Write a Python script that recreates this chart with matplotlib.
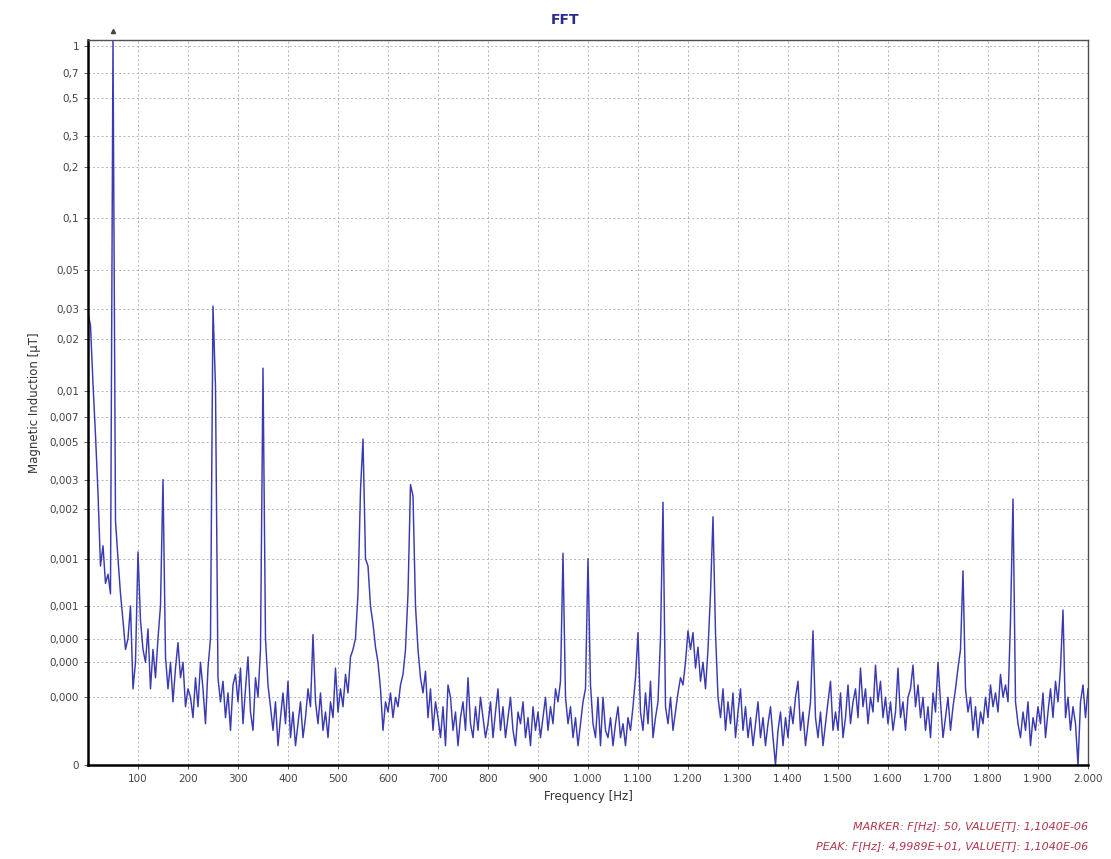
import numpy as np
import matplotlib
matplotlib.use("Agg")
import matplotlib.pyplot as plt
from matplotlib.ticker import FixedLocator, FuncFormatter

# spectrum, 5 Hz step, values in uT (one row = 100 Hz)
freq_step = 5
spectrum = [
    0.028, 0.024, 0.011, 0.0055, 0.0025, 0.0009, 0.0012, 0.0007, 0.0008, 0.0006,
    1.104, 0.0017, 0.001, 0.0006, 0.0004, 0.00025, 0.0003, 0.0005, 0.00012, 0.0002,
    0.0011, 0.0004, 0.00025, 0.0002, 0.00035, 0.00012, 0.00025, 0.00015, 0.0003, 0.0005,
    0.003, 0.00022, 0.00012, 0.0002, 0.00009, 0.00018, 0.00028, 0.00015, 0.0002, 0.00008,
    0.00012, 0.0001, 0.00006, 0.00015, 0.00008, 0.0002, 0.00012, 0.00005, 0.00018, 0.0003,
    0.031, 0.0105, 0.00015, 0.00009, 0.00014, 0.00006, 0.00011, 0.00004, 0.00013, 0.00016,
    0.00009, 0.00018, 0.00005, 0.00012, 0.00022, 0.00007, 0.00004, 0.00015, 0.0001, 0.00025,
    0.0135, 0.0003, 0.00013, 0.00008, 0.00004, 0.00009, 0.00002, 0.00006, 0.00011, 0.00005,
    0.00014, 0.00003, 0.00007, 0.00002, 0.00005, 0.00009, 0.00003, 0.00006, 0.00012, 0.00008,
    0.00032, 0.00009, 0.00005, 0.00011, 0.00004, 0.00007, 0.00003, 0.00009, 0.00006, 0.00018,
    0.00007, 0.00012, 0.00008, 0.00016, 0.00011, 0.00022, 0.00025, 0.0003, 0.0006, 0.0026,
    0.0052, 0.001, 0.0009, 0.0005, 0.00038, 0.00026, 0.0002, 0.00012, 0.00004, 0.00009,
    0.00007, 0.00011, 0.00006, 0.0001, 0.00008, 0.00013, 0.00016, 0.00025, 0.0006, 0.0028,
    0.0024, 0.0005, 0.00025, 0.00015, 0.00011, 0.00017, 0.00006, 0.00012, 0.00004, 0.00009,
    0.00006, 0.00003, 0.00008, 0.00002, 0.00013, 0.0001, 0.00004, 0.00007, 0.00002, 0.00006,
    0.00009, 0.00004, 0.00015, 0.00005, 0.00003, 0.00008, 0.00004, 0.0001, 0.00006, 0.00003,
    0.00005, 0.00009, 0.00003, 0.00007, 0.00012, 0.00004, 0.00008, 0.00003, 0.00006, 0.0001,
    0.00004, 0.00002, 0.00007, 0.00005, 0.00009, 0.00003, 0.00006, 0.00002, 0.00008, 0.00004,
    0.00007, 0.00003, 0.00006, 0.0001, 0.00004, 0.00008, 0.00005, 0.00012, 0.00009, 0.00014,
    0.00108, 0.0001, 0.00005, 0.00008, 0.00003, 0.00006, 0.00002, 0.00005, 0.00009, 0.00012,
    0.001, 0.00013, 0.00005, 0.00003, 0.0001, 0.00002, 0.0001, 0.00004, 0.00003, 0.00006,
    0.00002, 0.00005, 0.00008, 0.00003, 0.00005, 0.00002, 0.00006, 0.00004, 0.00008, 0.00015,
    0.00033, 0.00007, 0.00004, 0.00011, 0.00005, 0.00014, 0.00003, 0.00006, 0.00009, 0.0003,
    0.0022, 0.00008, 0.00005, 0.0001, 0.00004, 0.00007, 0.00011, 0.00015, 0.00013, 0.0002,
    0.00034, 0.00025, 0.00033, 0.00018, 0.00026, 0.00014, 0.0002, 0.00012, 0.00025, 0.0006,
    0.0018, 0.00033, 0.0001, 0.00006, 0.00012, 0.00004, 0.00009, 0.00005, 0.00011, 0.00003,
    0.00007, 0.00012, 0.00004, 0.00008, 0.00003, 0.00006, 0.00002, 0.00005, 0.00009, 0.00003,
    0.00006, 0.00002, 0.00005, 0.00008, 0.00003, 0.0, 0.00004, 0.00007, 0.00002, 0.00006,
    0.00003, 0.00008, 0.00005, 0.0001, 0.00014, 0.00004, 0.00007, 0.00002, 0.00005, 0.00009,
    0.00034, 0.00006, 0.00003, 0.00007, 0.00002, 0.00005, 0.00009, 0.00014, 0.00004, 0.00007,
    0.00004, 0.00011, 0.00003, 0.00006, 0.00013, 0.00005, 0.00009, 0.00012, 0.00006, 0.00018,
    0.00008, 0.00012, 0.00005, 0.0001, 0.00007, 0.00019, 0.00009, 0.00014, 0.00006, 0.0001,
    0.00005, 0.00009, 0.00004, 0.00007, 0.00018, 0.00006, 0.00009, 0.00004, 0.0001, 0.00012,
    0.00019, 0.00008, 0.00013, 0.00006, 0.0001, 0.00004, 0.00008, 0.00003, 0.00011, 0.00007,
    0.0002, 0.00009, 0.00003, 0.00006, 0.0001, 0.00004, 0.00008, 0.00012, 0.00018, 0.00025,
    0.00084, 0.00012, 0.00007, 0.0001, 0.00004, 0.00008, 0.00003, 0.00007, 0.00005, 0.0001,
    0.00006, 0.00013, 0.00008, 0.00011, 0.00007, 0.00016, 0.0001, 0.00013, 0.00009, 0.0004,
    0.0023, 0.00009, 0.00005, 0.00003, 0.00007, 0.00004, 0.00009, 0.00002, 0.00006, 0.00004,
    0.00008, 0.00005, 0.00011, 0.00003, 0.00007, 0.00012, 0.00006, 0.00014, 0.00009, 0.00018,
    0.00047, 0.00006, 0.0001, 0.00004, 0.00008, 0.00005, 0.0, 0.00009, 0.00013, 0.00006,
    0.00012,
]
freqs = np.arange(len(spectrum)) * freq_step

y_ticks = [1, 0.7, 0.5, 0.3, 0.2, 0.1, 0.05, 0.03, 0.02, 0.01, 0.007, 0.005,
           0.003, 0.002, 0.001, 0.0005, 0.0003, 0.0002, 0.0001, 0]
y_labels = ["1", "0,7", "0,5", "0,3", "0,2", "0,1", "0,05", "0,03", "0,02", "0,01",
            "0,007", "0,005", "0,003", "0,002", "0,001", "0,001", "0,000", "0,000",
            "0,000", "0"]
x_ticks = list(range(100, 2001, 100))

marker_text = "MARKER: F[Hz]: 50, VALUE[T]: 1,1040E-06"
peak_text = "PEAK: F[Hz]: 4,9989E+01, VALUE[T]: 1,1040E-06"

# log scale shifted so that 0 is on the axis
off = 6.8e-5
def fwd(v):
    return np.log10(np.asarray(v, dtype=float) + off)
def inv(y):
    return 10 ** np.asarray(y, dtype=float) - off

plt.rcParams["font.family"] = ["DejaVu Sans"]
fig = plt.figure(figsize=(11.11, 8.59), dpi=100)
ax = fig.add_axes([0.0792, 0.1094, 0.9001, 0.844])

ax.plot(freqs, spectrum, color="#3a3ab2", lw=1.05)

ax.set_yscale("function", functions=(fwd, inv))
ax.set_ylim(0, 1.083)
ax.set_xlim(0, 2000)

ax.yaxis.set_major_locator(FixedLocator(y_ticks))
ax.set_yticklabels(y_labels)
ax.yaxis.set_minor_locator(FixedLocator([]))
ax.xaxis.set_major_locator(FixedLocator(x_ticks))
ax.xaxis.set_major_formatter(FuncFormatter(lambda v, p: f"{int(v):,}".replace(",", ".")))

ax.tick_params(labelsize=7.5, colors="#444444", length=3, width=0.6)
ax.grid(True, color="#b4b4b4", ls=(0, (2, 2.5)), lw=0.7)

for s in ["left", "bottom"]:
    ax.spines[s].set_linewidth(1.8)
    ax.spines[s].set_color("black")
for s in ["top", "right"]:
    ax.spines[s].set_linewidth(1.0)
    ax.spines[s].set_color("#505050")

ax.set_xlabel("Frequency [Hz]", fontsize=8.5, color="#333333", labelpad=4)
ax.set_ylabel("Magnetic Induction [µT]", fontsize=8.5, color="#333333", labelpad=6)

# marker symbol above the 50 Hz line
ax.plot([50], [1.22], marker="^", ms=3, color="#444444", clip_on=False)

fig.text(565 / 1111, 1 - 20 / 859, "FFT", ha="center", va="center",
         fontsize=10, fontweight="bold", color="#2b2b8c")
fig.text(1088 / 1111, 1 - 826 / 859, marker_text, ha="right", va="center",
         fontsize=8, style="italic", color="#b0364a")
fig.text(1088 / 1111, 1 - 846 / 859, peak_text, ha="right", va="center",
         fontsize=8, style="italic", color="#b0364a")

fig.savefig("out.png", dpi=100)
